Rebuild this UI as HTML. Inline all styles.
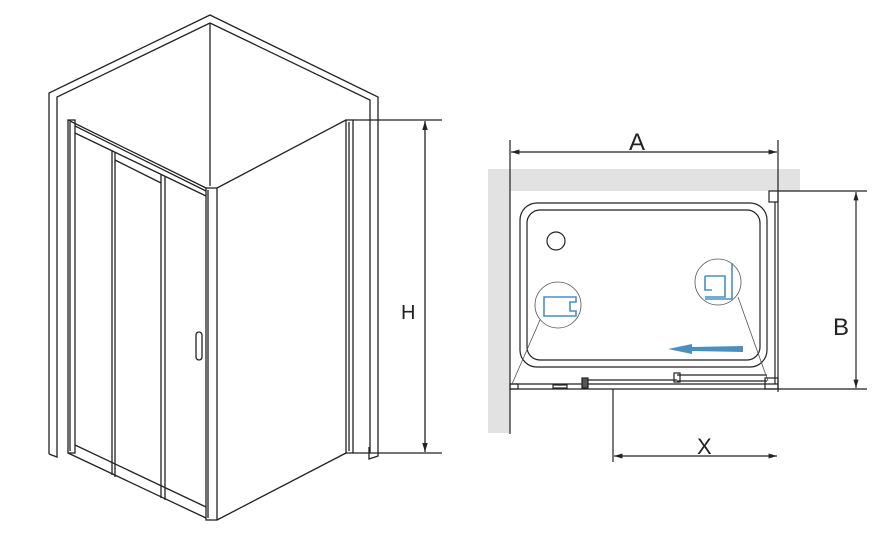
<!DOCTYPE html>
<html><head><meta charset="utf-8"><style>
html,body{margin:0;padding:0;background:#fff;}
svg{display:block;}
text{font-family:"Liberation Sans",sans-serif;fill:#222;}
</style></head><body>
<svg width="873" height="547" viewBox="0 0 873 547" xmlns="http://www.w3.org/2000/svg">
<defs>
<marker id="ar" viewBox="0 0 10 10" refX="10" refY="5" markerWidth="7" markerHeight="7" orient="auto-start-reverse"><path d="M0,2 L10,5 L0,8 z" fill="#222"/></marker>
</defs>
<g fill="none" stroke="#222" stroke-width="1.3">
<path d="M49,454 L49,93 L210,15 L378,97 L378,456 L369,459 L369,447"/>
<path d="M57,454 L57,97 L210,23 L370,100 L370,453"/>
<path d="M49,454 L57,457 L57,454"/>
<line x1="210" y1="23" x2="210" y2="186"/>
<rect x="68" y="120" width="7" height="333"/>
<line x1="70" y1="122" x2="70" y2="451"/>
<path d="M68,120 L206,188"/>
<path d="M75,126 L206,191"/>
<path d="M75,133 L206,196"/>
<path d="M75,445 L206,507"/>
<path d="M68,453 L206,518"/>
<rect x="206" y="188" width="11" height="332"/>
<line x1="208" y1="190" x2="208" y2="518"/>
<line x1="112" y1="150" x2="112" y2="475"/>
<line x1="115" y1="152" x2="115" y2="477"/>
<line x1="161" y1="174" x2="161" y2="498"/>
<line x1="165" y1="176" x2="165" y2="500"/>
<path d="M115,160 L161,183"/>
<rect x="196" y="332" width="6" height="28" rx="3"/>
<path d="M217,188 L346,120"/>
<path d="M217,520 L346,453"/>
<rect x="346" y="120" width="7" height="333"/>
<line x1="349" y1="122" x2="349" y2="451"/>
<line x1="353" y1="120" x2="442" y2="120"/>
<line x1="353" y1="453" x2="442" y2="453"/>
<line x1="425" y1="121" x2="425" y2="452" marker-start="url(#ar)" marker-end="url(#ar)"/>
</g>
<text x="401" y="319" font-size="20">H</text>

<rect x="488" y="169" width="312" height="22" fill="#e2e2e2"/>
<rect x="488" y="169" width="22" height="264" fill="#e2e2e2"/>
<g fill="none" stroke="#222" stroke-width="1.2">
<line x1="510" y1="140" x2="510" y2="434"/>
<line x1="778" y1="140" x2="778" y2="392"/>
<line x1="511" y1="152" x2="777" y2="152" marker-start="url(#ar)" marker-end="url(#ar)"/>
<rect x="520" y="203" width="247" height="164" rx="17"/>
<rect x="527" y="210" width="233" height="150" rx="13"/>
<circle cx="556" cy="241" r="9"/>
<rect x="769" y="191" width="9" height="11"/>
<line x1="775" y1="202" x2="775" y2="384"/>
<line x1="510" y1="384" x2="778" y2="384"/>
<line x1="510" y1="389" x2="778" y2="389"/>
<line x1="585" y1="380" x2="677" y2="380"/>
<line x1="677" y1="375" x2="767" y2="375"/>
<line x1="677" y1="381" x2="767" y2="381"/>
<rect x="510" y="384" width="8" height="5"/>
<rect x="582" y="378" width="6" height="10" fill="#555"/>
<rect x="674" y="373" width="6" height="9"/>
<rect x="765" y="378" width="13" height="11"/>
<rect x="553" y="385" width="14" height="3"/>
<line x1="778" y1="191" x2="867" y2="191"/>
<line x1="778" y1="389" x2="867" y2="389"/>
<line x1="856" y1="192" x2="856" y2="388" marker-start="url(#ar)" marker-end="url(#ar)"/>
<line x1="613" y1="389" x2="613" y2="462"/>
<line x1="614" y1="456" x2="777" y2="456" marker-start="url(#ar)" marker-end="url(#ar)"/>
</g>
<g fill="none" stroke="#555" stroke-width="0.8">
<circle cx="558" cy="305" r="23"/>
<circle cx="718" cy="282" r="23"/>
<line x1="540" y1="320" x2="512" y2="384"/>
<line x1="738" y1="297" x2="768" y2="381"/>
</g>
<g fill="none" stroke="#4a8fc0" stroke-width="1.6">
<path d="M564,297 L576,297 L576,302 L570,302 L570,311 L576,311 L576,316 L544,316 L544,297 L564,297"/>
<path d="M732,263 L732,299 L705,299 M705,276 L725,276 L725,297 L705,297 M705,276 L705,290 L712,290"/>
</g>
<path d="M668,349 L692,344 L692,347 L743,346 L743,352 L692,351 L692,354 z" fill="#4a8fc0"/>
<text x="629" y="150" font-size="24">A</text>
<text x="833" y="335" font-size="24">B</text>
<text x="697" y="454" font-size="22">X</text>
</svg>
</body></html>
